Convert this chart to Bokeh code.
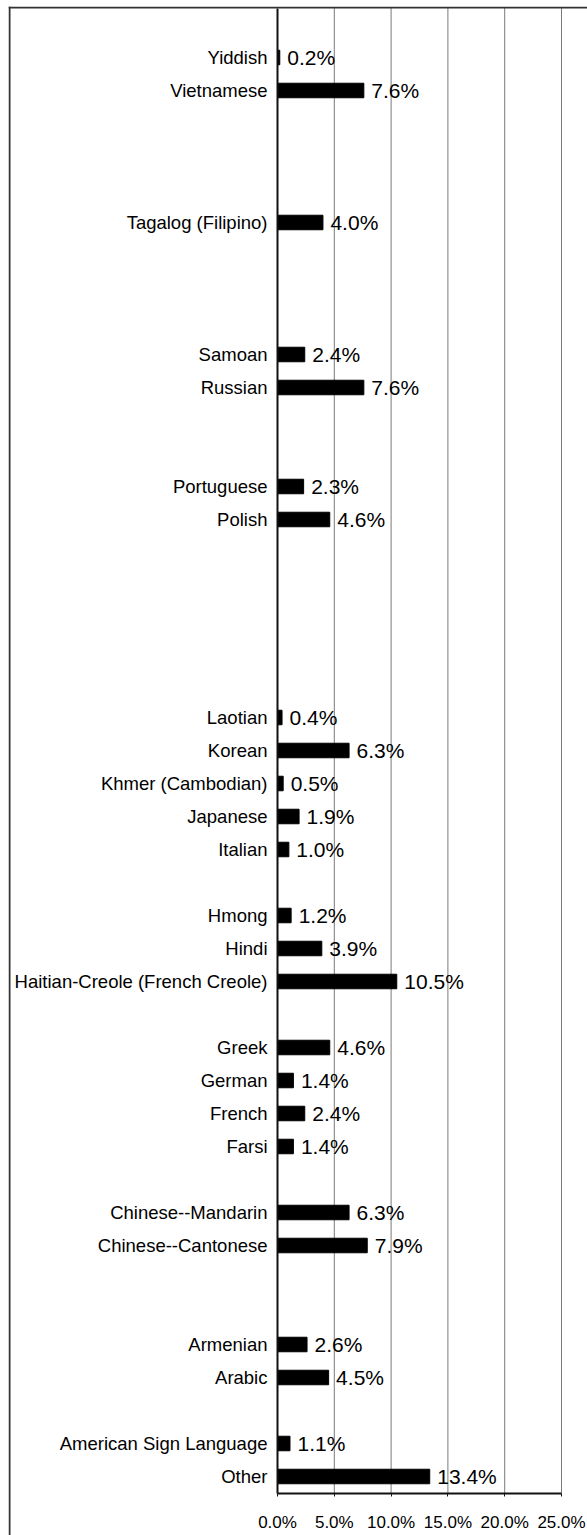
from bokeh.plotting import figure
from bokeh.models import Range1d, FixedTicker, ColumnDataSource, PrintfTickFormatter, Span
from bokeh.core.properties import value
from bokeh.embed import file_html
from bokeh.resources import INLINE

# Category slots from bottom to top ("" = empty slot in the chart)
categories = [
    "Other", "American Sign Language", "", "Arabic", "Armenian", "", "",
    "Chinese--Cantonese", "Chinese--Mandarin", "", "Farsi", "French", "German",
    "Greek", "", "Haitian-Creole (French Creole)", "Hindi", "Hmong", "",
    "Italian", "Japanese", "Khmer (Cambodian)", "Korean", "Laotian",
    "", "", "", "", "", "Polish", "Portuguese", "", "", "Russian", "Samoan",
    "", "", "", "Tagalog (Filipino)", "", "", "", "Vietnamese", "Yiddish", "",
]
values = [
    13.4, 1.1, None, 4.5, 2.6, None, None,
    7.9, 6.3, None, 1.4, 2.4, 1.4,
    4.6, None, 10.5, 3.9, 1.2, None,
    1.0, 1.9, 0.5, 6.3, 0.4,
    None, None, None, None, None, 4.6, 2.3, None, None, 7.6, 2.4,
    None, None, None, 4.0, None, None, None, 7.6, 0.2, None,
]
x_ticks = [0, 5, 10, 15, 20, 25]

pos = [i for i, c in enumerate(categories) if c]
vals = [values[i] for i in pos]
names = [categories[i] for i in pos]
src = ColumnDataSource(dict(pos=pos, val=vals, name=names,
                            lab=[f"{v:.1f}%" for v in vals]))

FONT = "Liberation Sans"

# ---- page geometry (pixels) ----
W, H = 587, 1535                 # canvas
FL, FT = 8, 6                    # frame left / top (chart border position)
AX0, AX25 = 277, 561             # x pixel of 0% and 25%
ROW, ROW0 = 33, 1476             # row pitch and centre of first row
xmax = x_ticks[-1]
ppu = (AX25 - AX0) / xmax
x_start = (FL - AX0) / ppu
x_end = xmax + (W - AX25) / ppu
y_end = (ROW0 - FT) / ROW
y_start = (ROW0 - H) / ROW
n = len(categories)

p = figure(width=W, height=H, output_backend="svg", toolbar_location=None,
           x_range=Range1d(x_start, x_end), y_range=Range1d(y_start, y_end),
           min_border_left=FL, min_border_right=0, min_border_top=FT,
           min_border_bottom=0)
p.outline_line_color = None
p.background_fill_color = "white"
p.border_fill_color = "white"
p.xgrid.visible = False
p.ygrid.visible = False

# chart border (left and top edges; the rest lies outside the window)
p.add_layout(Span(location=x_start + 1 / ppu, dimension="height",
                  line_color="#333333", line_width=2))
p.add_layout(Span(location=y_end - 1 / ROW, dimension="width",
                  line_color="#333333", line_width=2))

# vertical gridlines over the plot area
p.segment(x0=x_ticks[1:], x1=x_ticks[1:], y0=-0.5, y1=n - 0.5,
          line_color="#7a7a7a", line_width=1)

p.hbar(y="pos", left=0, right="val", height=0.44, source=src,
       fill_color="black", line_color="black")
p.text(x="val", y="pos", text="lab", source=src, x_offset=7.5,
       text_baseline="middle", text_align="left",
       text_font=value(FONT), text_font_size="21px", text_color="black")

# x axis (sits on the bottom of the plot area)
xa = p.xaxis[0]
xa.fixed_location = -0.5
xa.bounds = (0, xmax)
xa.ticker = FixedTicker(ticks=x_ticks)
xa.formatter = PrintfTickFormatter(format="%.1f%%")
xa.major_label_text_font = FONT
xa.major_label_text_font_size = "17px"
xa.major_label_text_color = "black"
xa.major_label_standoff = 17
xa.axis_line_color = "#111111"
xa.axis_line_width = 2
xa.major_tick_out = 3
xa.major_tick_in = 0
xa.major_tick_line_color = "#111111"
xa.minor_tick_line_color = None

# y axis (at 0 %)
ya = p.yaxis[0]
ya.fixed_location = 0
ya.bounds = (-0.5, n - 0.5)
ya.ticker = FixedTicker(ticks=pos)
ya.major_label_overrides = {i: categories[i] for i in pos}
ya.major_label_text_font = FONT
ya.major_label_text_font_size = "18.5px"
ya.major_label_text_color = "black"
ya.major_label_standoff = 10
ya.axis_line_color = "#111111"
ya.axis_line_width = 2
ya.major_tick_out = 0
ya.major_tick_in = 0
ya.minor_tick_line_color = None

open("out.html", "w").write(file_html(p, INLINE))
